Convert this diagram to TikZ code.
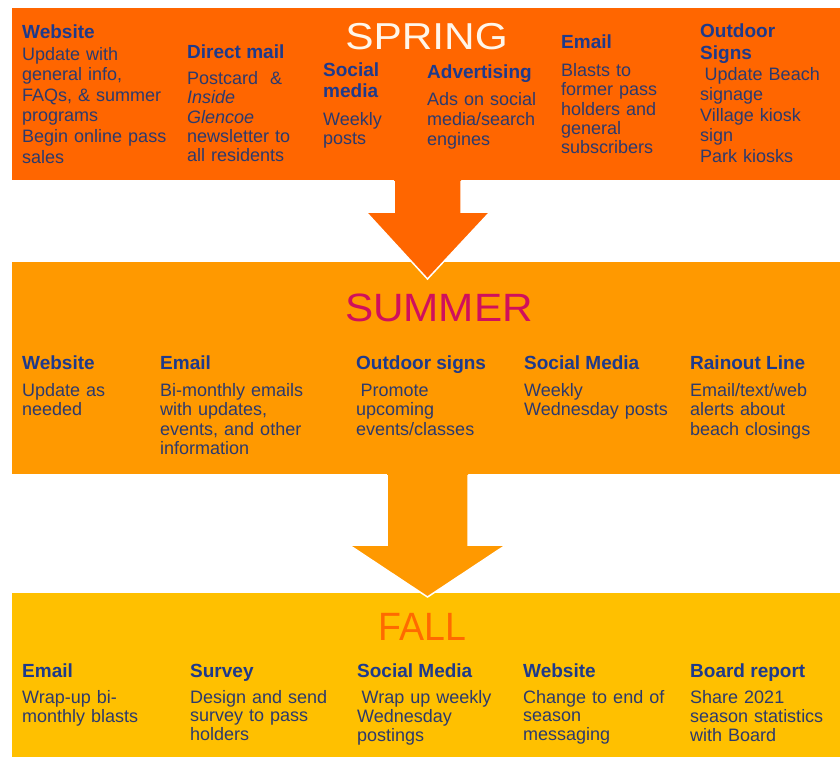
\documentclass[tikz,border=0pt]{standalone}
\usepackage{fontspec}
\setmainfont{Liberation Sans}
\definecolor{springc}{HTML}{FF6600}
\definecolor{summerc}{HTML}{FF9900}
\definecolor{fallc}{HTML}{FFC000}
\definecolor{headc}{HTML}{1E3A8C}
\definecolor{bodyc}{HTML}{2C3A6E}
\definecolor{springt}{HTML}{FFF6EA}
\definecolor{summert}{HTML}{D0105C}
\definecolor{fallt}{HTML}{FF6A00}
\begin{document}
\begin{tikzpicture}[x=1pt,y=-1pt,
  hd/.style={anchor=base west, inner sep=0pt, text=headc, font=\fontsize{19}{20}\selectfont\bfseries},
  hdm/.style={anchor=north west, inner sep=0pt, align=left, text width=150pt, text=headc, font=\fontsize{19}{#1}\selectfont\bfseries},
  bd/.style={anchor=north west, inner sep=0pt, align=left, text width=200pt, text=bodyc, font=\fontsize{18}{#1}\selectfont},
  ttl/.style={anchor=base, inner sep=0pt, font=\fontsize{#1}{#1}\selectfont},
  band/.style={fill=#1, draw=none},
  blockarrow/.style={fill=#1, draw=none},
  arrowedge/.style={draw=white, line width=1.5pt, line join=miter}
]
\useasboundingbox (0,0) rectangle (840,757);

% bands
\fill[band=springc] (12,8) rectangle (840,180);
\fill[band=summerc] (12,262) rectangle (840,474);
\fill[band=fallc] (12,593) rectangle (840,757);

% arrow spring -> summer
\coordinate (a1s) at (427.5,178);
\fill[blockarrow=springc] (394,178) -- (394,212) -- (366,212) -- (427.5,279) -- (490,212) -- (461,212) -- (461,178) -- cycle;
\draw[arrowedge] (394,181) -- (394,212) -- (366,212) -- (427.5,279) -- (490,212) -- (461,212) -- (461,181);

% arrow summer -> fall
\fill[blockarrow=summerc] (387,472) -- (387,545) -- (349,545) -- (427.5,597) -- (506,545) -- (468,545) -- (468,472) -- cycle;
\draw[arrowedge] (387,475) -- (387,545) -- (349,545) -- (427.5,597) -- (506,545) -- (468,545) -- (468,475);

% titles
\node[ttl=37.5, text=springt] (tspring) at (426.5,49.3) {\scalebox{1.13}[1]{SPRING}};
\node[ttl=39.5, text=summert] (tsummer) at (439,321.7) {\scalebox{1.07}[1]{SUMMER}};
\node[ttl=39.5, text=fallt] (tfall) at (422.5,640) {\scalebox{0.95}[1]{FALL}};

% ---- SPRING ----
\node[hd] (sp1h) at (22,39) {Website};
\node[bd=20.6] (sp1b) at (22,45.58) {\strut Update with\\general info,\\FAQs, \& summer\\programs\\Begin online pass\\sales};

\node[hd] (sp2h) at (187,59) {Direct mail};
\node[bd=19.2] (sp2b) at (187,71.06) {\strut Postcard\ \ \&\\\textit{Inside}\\\textit{Glencoe}\\newsletter to\\all residents};

\node[hdm=20.3] (sp3h) at (323,62.5) {\strut Social\\media};
\node[bd=19] (sp3b) at (323,111.7) {\strut Weekly\\posts};

\node[hd] (sp4h) at (427,79) {Advertising};
\node[bd=20] (sp4b) at (427,91) {\strut Ads on social\\media/search\\engines};

\node[hd] (sp5h) at (561,49) {Email};
\node[bd=19.2] (sp5b) at (561,63.06) {\strut Blasts to\\former pass\\holders and\\general\\subscribers};

\node[hdm=21.7] (sp6h) at (700,22.1) {\strut Outdoor\\Signs};
\node[bd=20.5] (sp6b) at (700,65.65) {\strut\hspace*{4.5pt}Update Beach\\signage\\Village kiosk\\sign\\Park kiosks};

% ---- SUMMER ----
\node[hd] (su1h) at (22,369) {Website};
\node[bd=19.2] (su1b) at (22,383.06) {\strut Update as\\needed};

\node[hd] (su2h) at (160,369) {Email};
\node[bd=19.2] (su2b) at (160,383.06) {\strut Bi-monthly emails\\with updates,\\events, and other\\information};

\node[hd] (su3h) at (356,369) {Outdoor signs};
\node[bd=19.2] (su3b) at (356,383.06) {\strut\hspace*{4.5pt}Promote\\upcoming\\events/classes};

\node[hd] (su4h) at (524,369) {Social Media};
\node[bd=19.2] (su4b) at (524,383.06) {\strut Weekly\\Wednesday posts};

\node[hd] (su5h) at (690,369) {Rainout Line};
\node[bd=19.2] (su5b) at (690,383.06) {\strut Email/text/web\\alerts about\\beach closings};

% ---- FALL ----
\node[hd] (fa1h) at (22,677) {Email};
\node[bd=18.6] (fa1b) at (22,689.98) {\strut Wrap-up bi-\\monthly blasts};

\node[hd] (fa2h) at (190,677) {Survey};
\node[bd=18.6] (fa2b) at (190,689.98) {\strut Design and send\\survey to pass\\holders};

\node[hd] (fa3h) at (357,677) {Social Media};
\node[bd=18.6] (fa3b) at (357,689.98) {\strut\hspace*{4.5pt}Wrap up weekly\\Wednesday\\postings};

\node[hd] (fa4h) at (523,677) {Website};
\node[bd=18.6] (fa4b) at (523,689.98) {\strut Change to end of\\season\\messaging};

\node[hd] (fa5h) at (690,677) {Board report};
\node[bd=18.6] (fa5b) at (690,689.98) {\strut Share 2021\\season statistics\\with Board};
\end{tikzpicture}
\end{document}
